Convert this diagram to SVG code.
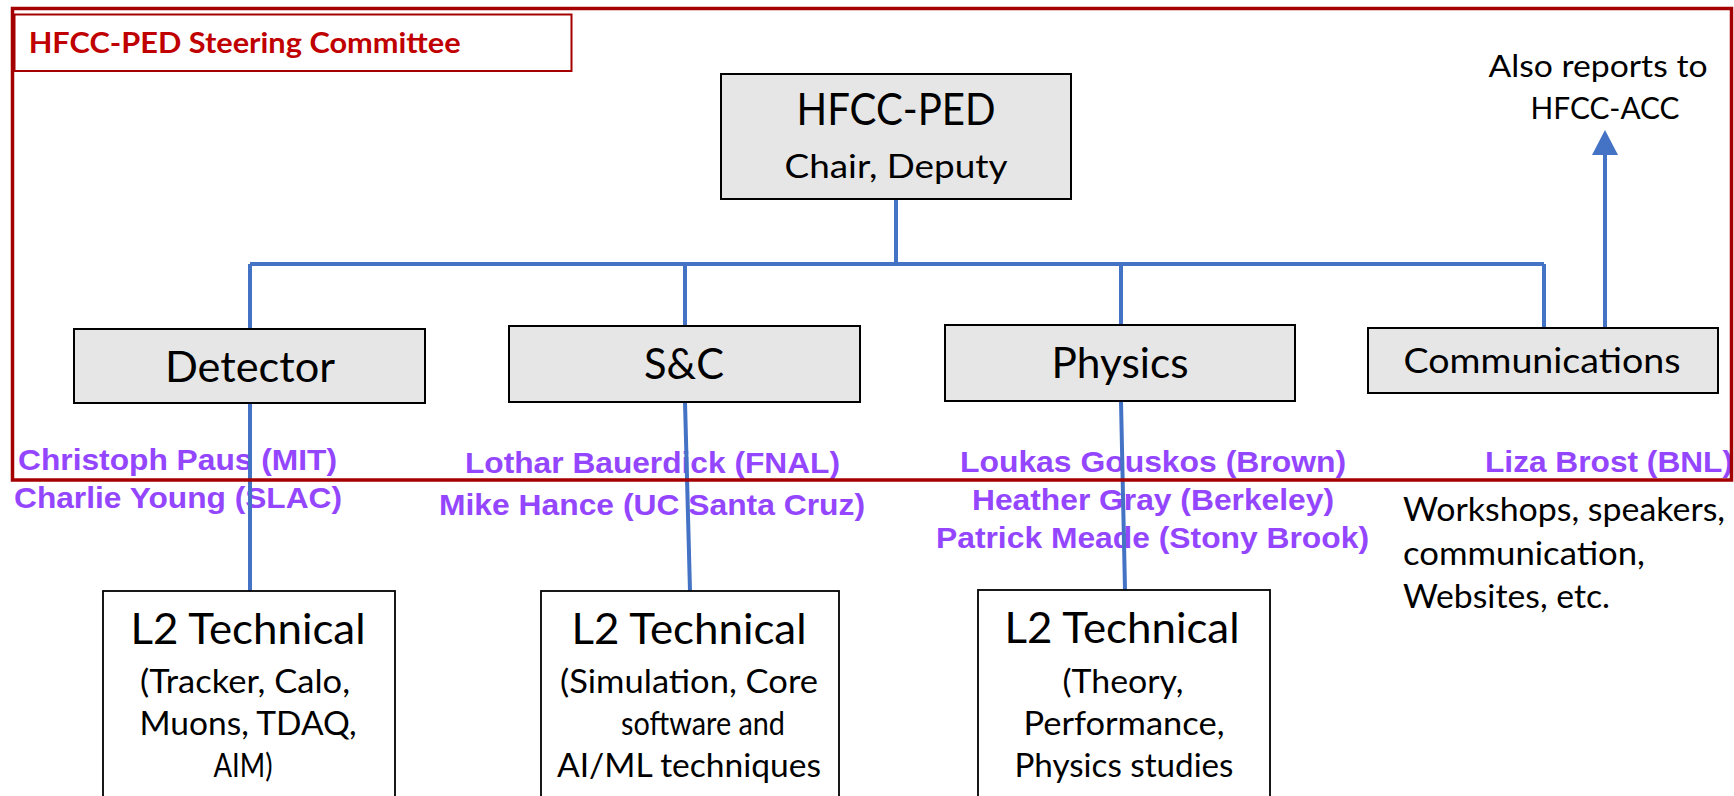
<svg xmlns="http://www.w3.org/2000/svg" width="1734" height="796" viewBox="0 0 1734 796">
<style>
.box{fill:#e6e6e6;stroke:#000;stroke-width:2}
.l2{fill:#fff;stroke:#000;stroke-width:1.8}
.t{font-family:Lato,"Open Sans","Liberation Sans",sans-serif;fill:#000;text-anchor:middle}
.tl{font-family:Lato,"Open Sans","Liberation Sans",sans-serif;fill:#000}
.p{font-family:"Liberation Sans",Arial,sans-serif;font-weight:bold;fill:#9446ff;font-size:30px}
.c{fill:none;stroke:#4472c4;stroke-width:4}
</style>
<defs>
<marker id="arr" viewBox="0 0 25 26" markerWidth="25" markerHeight="26" refX="15" refY="13" orient="auto" markerUnits="userSpaceOnUse">
<path d="M0 0 L25 13 L0 26 z" fill="#4472c4"/>
</marker>
</defs>
<rect width="1734" height="796" fill="#fff"/>

<g id="names">
<text class="p" x="18" y="470" textLength="319" lengthAdjust="spacingAndGlyphs">Christoph Paus (MIT)</text>
<text class="p" x="14" y="508" textLength="328" lengthAdjust="spacingAndGlyphs">Charlie Young (SLAC)</text>
<text class="p" x="465" y="473" textLength="375" lengthAdjust="spacingAndGlyphs">Lothar Bauerdick (FNAL)</text>
<text class="p" x="439" y="515" textLength="426" lengthAdjust="spacingAndGlyphs">Mike Hance (UC Santa Cruz)</text>
<text class="p" x="960" y="472" textLength="386" lengthAdjust="spacingAndGlyphs">Loukas Gouskos (Brown)</text>
<text class="p" x="972" y="510" textLength="362" lengthAdjust="spacingAndGlyphs">Heather Gray (Berkeley)</text>
<text class="p" x="936" y="548" textLength="433" lengthAdjust="spacingAndGlyphs">Patrick Meade (Stony Brook)</text>
<text class="p" x="1485" y="472" textLength="248" lengthAdjust="spacingAndGlyphs">Liza Brost (BNL)</text>
</g>

<g id="comms-desc">
<text class="tl" x="1403" y="521" font-size="33" textLength="322" lengthAdjust="spacingAndGlyphs">Workshops, speakers,</text>
<text class="tl" x="1403" y="565" font-size="33" textLength="242" lengthAdjust="spacingAndGlyphs">communication,</text>
<text class="tl" x="1403" y="608" font-size="33" textLength="207" lengthAdjust="spacingAndGlyphs">Websites, etc.</text>
</g>

<g id="acc-label">
<text class="t" x="1598" y="77" font-size="30" textLength="219" lengthAdjust="spacingAndGlyphs">Also reports to</text>
<text class="t" x="1605" y="119" font-size="30" textLength="149" lengthAdjust="spacingAndGlyphs">HFCC-ACC</text>
</g>

<g id="connectors">
<path class="c" d="M896 199 V264"/>
<path class="c" d="M250 264 H1544"/>
<path class="c" d="M250 264 V591"/>
<path class="c" d="M685 264 V326 M685 402 L690 591"/>
<path class="c" d="M1121 264 V325 M1121 401 L1125 590"/>
<path class="c" d="M1544 264 V328"/>
<path class="c" d="M1605 328 V140" marker-end="url(#arr)"/>
</g>

<g id="hfcc-ped">
<rect class="box" x="721" y="74" width="350" height="125"/>
<text class="t" x="896" y="125" font-size="44" textLength="199" lengthAdjust="spacingAndGlyphs">HFCC-PED</text>
<text class="t" x="896" y="178" font-size="33" textLength="223" lengthAdjust="spacingAndGlyphs">Chair, Deputy</text>
</g>

<g id="detector">
<rect class="box" x="74" y="329" width="351" height="74"/>
<text class="t" x="250" y="382" font-size="42" textLength="170" lengthAdjust="spacingAndGlyphs">Detector</text>
</g>

<g id="sc">
<rect class="box" x="509" y="326" width="351" height="76"/>
<text class="t" x="684" y="379" font-size="42" textLength="80" lengthAdjust="spacingAndGlyphs">S&amp;C</text>
</g>

<g id="physics">
<rect class="box" x="945" y="325" width="350" height="76"/>
<text class="t" x="1120" y="378" font-size="42" textLength="137" lengthAdjust="spacingAndGlyphs">Physics</text>
</g>

<g id="communications">
<rect class="box" x="1368" y="328" width="350" height="65"/>
<text class="t" x="1542" y="373" font-size="34" textLength="277" lengthAdjust="spacingAndGlyphs">Communications</text>
</g>

<g id="l2-detector">
<rect class="l2" x="103" y="591" width="292" height="230"/>
<text class="t" x="248" y="644" font-size="42" textLength="235" lengthAdjust="spacingAndGlyphs">L2 Technical</text>
<text class="t" x="245" y="693" font-size="33" textLength="210" lengthAdjust="spacingAndGlyphs">(Tracker, Calo,</text>
<text class="t" x="248" y="735" font-size="33" textLength="217" lengthAdjust="spacingAndGlyphs">Muons, TDAQ,</text>
<text class="t" x="243" y="777" font-size="33" textLength="59" lengthAdjust="spacingAndGlyphs">AIM)</text>
</g>

<g id="l2-sc">
<rect class="l2" x="541" y="591" width="298" height="230"/>
<text class="t" x="689" y="644" font-size="42" textLength="235" lengthAdjust="spacingAndGlyphs">L2 Technical</text>
<text class="t" x="689" y="693" font-size="33" textLength="258" lengthAdjust="spacingAndGlyphs">(Simulation, Core</text>
<text class="t" x="703" y="735" font-size="33" textLength="164" lengthAdjust="spacingAndGlyphs">software and</text>
<text class="t" x="689" y="777" font-size="33" textLength="264" lengthAdjust="spacingAndGlyphs">AI/ML techniques</text>
</g>

<g id="l2-physics">
<rect class="l2" x="978" y="590" width="292" height="230"/>
<text class="t" x="1122" y="643" font-size="42" textLength="235" lengthAdjust="spacingAndGlyphs">L2 Technical</text>
<text class="t" x="1123" y="693" font-size="33" textLength="121" lengthAdjust="spacingAndGlyphs">(Theory,</text>
<text class="t" x="1124" y="735" font-size="33" textLength="201" lengthAdjust="spacingAndGlyphs">Performance,</text>
<text class="t" x="1124" y="777" font-size="33" textLength="219" lengthAdjust="spacingAndGlyphs">Physics studies</text>
</g>

<g id="steering-committee">
<rect x="12.5" y="8.5" width="1719" height="471.5" fill="none" stroke="#a50000" stroke-width="3.5"/>
<rect x="14.5" y="14.5" width="557" height="56.5" fill="#fff" stroke="#a50000" stroke-width="2"/>
<text x="28.7" y="53" font-family="Lato,'Open Sans','Liberation Sans',sans-serif" font-weight="bold" font-size="29" fill="#c00000" textLength="432" lengthAdjust="spacingAndGlyphs">HFCC-PED Steering Committee</text>
</g>
</svg>
